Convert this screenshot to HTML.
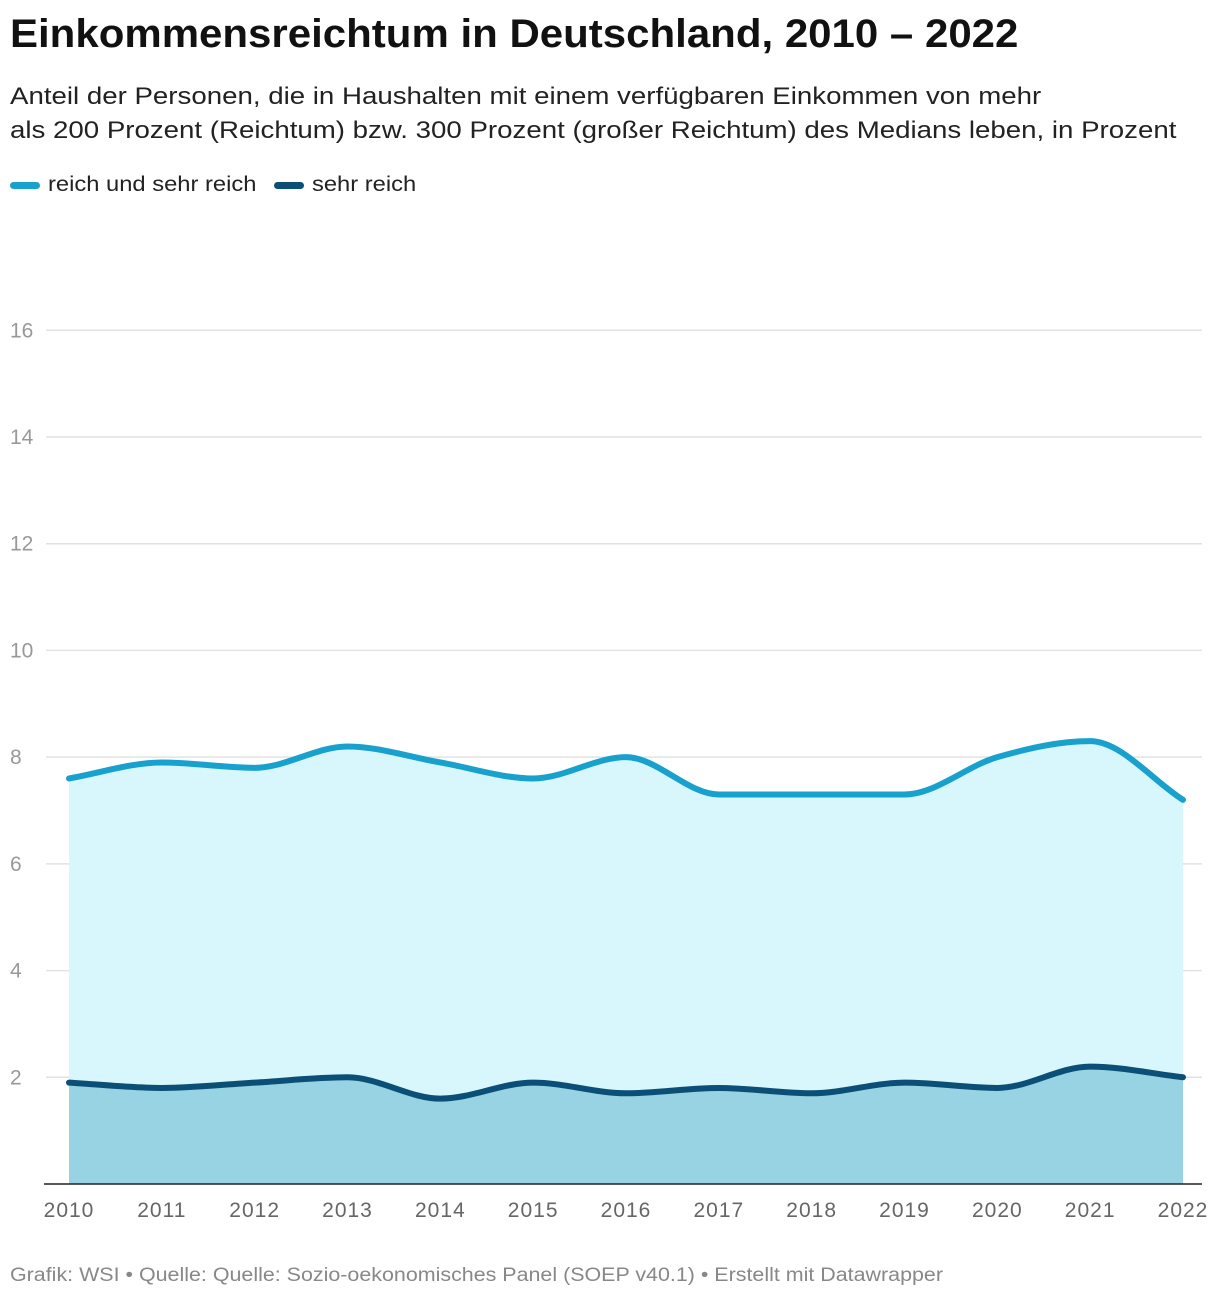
<!DOCTYPE html>
<html><head><meta charset="utf-8">
<style>
body{margin:0;width:1220px;height:1300px;background:#fff;font-family:"Liberation Sans",sans-serif;overflow:hidden;position:relative}
.t{position:absolute;left:10px;white-space:nowrap;transform-origin:0 0}
</style></head><body>
<div class="t" style="top:12px;font-size:40px;font-weight:bold;color:#111;transform:scaleX(1.05)">Einkommensreichtum in Deutschland, 2010 – 2022</div>
<div class="t" style="top:80px;font-size:24px;line-height:34px;color:#222;transform:scaleX(1.152)">Anteil der Personen, die in Haushalten mit einem verfügbaren Einkommen von mehr<br>als 200 Prozent (Reichtum) bzw. 300 Prozent (großer Reichtum) des Medians leben, in Prozent</div>
<div class="t" style="top:173px;font-size:21px;color:#222">
<span><span style="display:inline-block;width:30px;height:7px;border-radius:4px;background:#18a1cd;vertical-align:middle;margin-right:8px"></span><span style="display:inline-block;transform:scaleX(1.13);transform-origin:0 0;margin-right:26px">reich und sehr reich</span></span>
<span style="margin-left:10px"><span style="display:inline-block;width:30px;height:7px;border-radius:4px;background:#0b4e76;vertical-align:middle;margin-right:8px"></span><span style="display:inline-block;transform:scaleX(1.13);transform-origin:0 0">sehr reich</span></span>
</div>
<svg id="chart" width="1220" height="1300" style="position:absolute;left:0;top:0"></svg>
<div class="t" style="top:1265px;font-size:19px;color:#888;transform:scaleX(1.128)">Grafik: WSI • Quelle: Quelle: Sozio-oekonomisches Panel (SOEP v40.1) • Erstellt mit Datawrapper</div>
<script>
const years=[2010,2011,2012,2013,2014,2015,2016,2017,2018,2019,2020,2021,2022];
const reich=[7.6,7.9,7.8,8.2,7.9,7.6,8.0,7.3,7.3,7.3,8.0,8.3,7.2];
const sehrReich=[1.9,1.8,1.9,2.0,1.6,1.9,1.7,1.8,1.7,1.9,1.8,2.2,2.0];
const yTicks=[2,4,6,8,10,12,14,16];
const NS="http://www.w3.org/2000/svg";
const svg=document.getElementById('chart');
const x=i=>69+(1183-69)*i/(years.length-1);
const y=v=>1184-v*(1077-330)/14;
function mk(t,a){const e=document.createElementNS(NS,t);for(const k in a)e.setAttribute(k,a[k]);svg.appendChild(e);return e;}
function mono(vals){const n=vals.length,xs=vals.map((_,i)=>x(i)),ys=vals.map(y);const d=[],m=[];
for(let i=0;i<n-1;i++)d.push((ys[i+1]-ys[i])/(xs[i+1]-xs[i]));
for(let i=0;i<n;i++){if(i==0)m.push(d[0]);else if(i==n-1)m.push(d[n-2]);else m.push(d[i-1]*d[i]<=0?0:(d[i-1]+d[i])/2);}
for(let i=0;i<n-1;i++){if(d[i]==0){m[i]=0;m[i+1]=0;continue;}const a=m[i]/d[i],b=m[i+1]/d[i],s=a*a+b*b;if(s>9){const t=3/Math.sqrt(s);m[i]=t*a*d[i];m[i+1]=t*b*d[i];}}
let p=`M${xs[0]},${ys[0]}`;for(let i=0;i<n-1;i++){const h=(xs[i+1]-xs[i])/3;p+=` C${xs[i]+h},${ys[i]+m[i]*h} ${xs[i+1]-h},${ys[i+1]-m[i+1]*h} ${xs[i+1]},${ys[i+1]}`;}return p;}
yTicks.forEach(t=>{
const l=mk('line',{x1:46,x2:1202,y1:y(t),y2:y(t),stroke:'#e2e2e2','stroke-width':1.5});


const tx=mk('text',{x:10,y:y(t)+7,'font-size':21,fill:'#999'});tx.textContent=t;


});
const base=`L${x(years.length-1)},${y(0)} L${x(0)},${y(0)} Z`;
const a1=mk('path',{d:mono(reich)+base,fill:'#d7f7fc'});


const a2=mk('path',{d:mono(sehrReich)+base,fill:'#98d3e3'});


const l1=mk('path',{d:mono(reich),fill:'none',stroke:'#18a1cd','stroke-width':6,'stroke-linecap':'round'});


const l2=mk('path',{d:mono(sehrReich),fill:'none',stroke:'#0b4e76','stroke-width':6,'stroke-linecap':'round'});


const ax=mk('line',{x1:44,x2:1202,y1:y(0),y2:y(0),stroke:'#222','stroke-width':1.5});


years.forEach((yr,i)=>{const t=mk('text',{x:x(i),y:1217,'font-size':21,fill:'#666','text-anchor':'middle','letter-spacing':'1'});t.textContent=yr;

});
</script>
</body></html>
